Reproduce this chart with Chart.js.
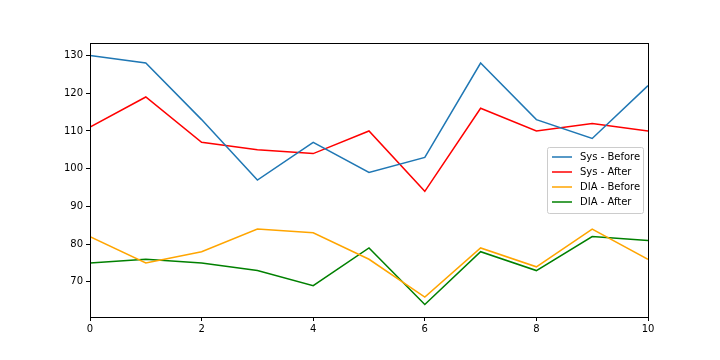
<!DOCTYPE html>
<html>
<head>
<meta charset="utf-8">
<script src="https://cdn.jsdelivr.net/npm/chart.js@4"></script>
<style>
  html, body { margin: 0; padding: 0; background: #fff; }
  #wrap { width: 720px; height: 360px; position: relative; }
</style>
</head>
<body>
<div id="wrap"><canvas id="chart"></canvas></div>
<script>
const xValues = [0, 1, 2, 3, 4, 5, 6, 7, 8, 9, 10];
const sysBefore = [130, 128, 113, 97, 107, 99, 103, 128, 113, 108, 122];
const sysAfter = [111, 119, 107, 105, 104, 110, 94, 116, 110, 112, 110];
const diaBefore = [82, 75, 78, 84, 83, 76, 66, 79, 74, 84, 76];
const diaAfter = [75, 76, 75, 73, 69, 79, 64, 78, 73, 82, 81];
const seriesLabels = ['Sys - Before', 'Sys - After', 'DIA - Before', 'DIA - After'];

Chart.defaults.font.family = 'DejaVu Sans';
Chart.defaults.font.size = 10;
Chart.defaults.color = '#000';

function toPoints(values) {
    return values.map((v, i) => ({ x: xValues[i], y: v }));
}

// box around the plot, like matplotlib spines
const frame = {
    id: 'frame',
    afterDraw(chart) {
        const a = chart.chartArea;
        const ctx = chart.ctx;
        ctx.save();
        ctx.strokeStyle = '#000';
        ctx.lineWidth = 1;
        ctx.strokeRect(Math.round(a.left) + 0.5, Math.round(a.top) + 0.5,
            Math.round(a.right - a.left), Math.round(a.bottom - a.top));
        ctx.restore();
    }
};

// legend box inside the plot, right side
const boxLegend = {
    id: 'boxLegend',
    afterDraw(chart) {
        const ctx = chart.ctx;
        const a = chart.chartArea;
        const sets = chart.data.datasets;
        const w = 96, rowH = 15;
        const h = sets.length * rowH + 6;
        const x = a.right - 5 - w;
        const y = 147;
        ctx.save();
        ctx.fillStyle = 'rgba(255,255,255,0.8)';
        ctx.strokeStyle = '#cccccc';
        ctx.lineWidth = 1;
        ctx.beginPath();
        ctx.roundRect(x + 0.5, y + 0.5, w, h, 2);
        ctx.fill();
        ctx.stroke();
        ctx.font = '10px DejaVu Sans';
        ctx.textBaseline = 'middle';
        sets.forEach((ds, i) => {
            const ly = y + 10 + i * rowH;
            ctx.strokeStyle = ds.borderColor;
            ctx.lineWidth = 1.5;
            ctx.beginPath();
            ctx.moveTo(x + 5, ly);
            ctx.lineTo(x + 25, ly);
            ctx.stroke();
            ctx.fillStyle = '#000';
            ctx.fillText(ds.label, x + 33, ly);
        });
        ctx.restore();
    }
};

const ctx = document.getElementById('chart').getContext('2d');
const chart = new Chart(ctx, {
    type: 'line',
    data: {
        datasets: [
            { label: seriesLabels[0], data: toPoints(sysBefore), borderColor: '#1f77b4' },
            { label: seriesLabels[1], data: toPoints(sysAfter), borderColor: 'red' },
            { label: seriesLabels[2], data: toPoints(diaBefore), borderColor: 'orange' },
            { label: seriesLabels[3], data: toPoints(diaAfter), borderColor: 'green' }
        ]
    },
    options: {
        responsive: true,
        maintainAspectRatio: false,
        animation: false,
        layout: { padding: { top: 43, right: 72, left: 0, bottom: 0 } },
        elements: {
            line: { borderWidth: 1.5, tension: 0, fill: false },
            point: { radius: 0, hoverRadius: 0 }
        },
        plugins: {
            legend: { display: false },
            tooltip: { enabled: false }
        },
        scales: {
            x: {
                type: 'linear',
                min: 0,
                max: 10,
                grid: { drawOnChartArea: false, drawTicks: true, tickLength: 4, color: '#000' },
                border: { color: '#000' },
                ticks: { stepSize: 2, padding: 2, maxRotation: 0 },
                afterFit(scale) { scale.height = 43; }
            },
            y: {
                min: 60.7,
                max: 133.3,
                grid: { drawOnChartArea: false, drawTicks: true, tickLength: 4, color: '#000' },
                border: { color: '#000' },
                ticks: {
                    padding: 3,
                    callback(value) { return value % 10 === 0 ? value : null; },
                    stepSize: 10
                },
                afterBuildTicks(scale) {
                    scale.ticks = [70, 80, 90, 100, 110, 120, 130].map(v => ({ value: v }));
                },
                afterFit(scale) { scale.width = 90; }
            }
        }
    },
    plugins: [frame, boxLegend]
});
</script>
</body>
</html>
